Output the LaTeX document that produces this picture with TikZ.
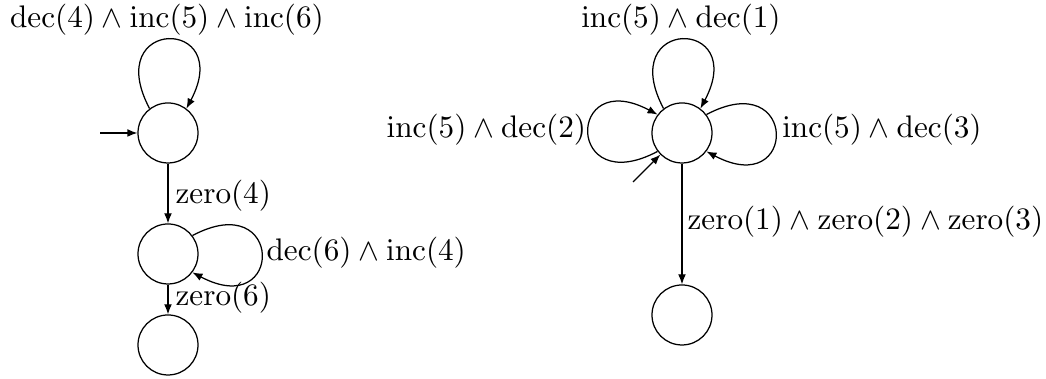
\documentclass[tikz,border=0pt]{standalone}
\usetikzlibrary{arrows.meta}
\begin{document}
\begin{tikzpicture}[x=0.3205pt,y=0.3205pt,
  state/.style={circle,draw,minimum size=19.23pt,inner sep=0pt},
  arr/.style={-{Latex[length=3.2pt,width=2.5pt]}},
  lab/.style={inner sep=0pt}]
\useasboundingbox (0,0) rectangle (1046,379);
% left automaton
\node[state] (s1) at (168,246) {};
\node[state] (s2) at (168,125) {};
\node[state] (s3) at (168,34) {};
\coordinate (i1) at (100,246);
\draw[arr] (i1) -- (s1);
\draw[arr] (s1.127) .. controls +(118:104) and +(62:104) .. (s1.53);
\draw[arr] (s1) -- (s2);
\draw[arr] (s2.37) .. controls +(28:104) and +(-28:104) .. (s2.-37);
\draw[arr] (s2) -- (s3);
\node[lab] (l1) at (167,359.5) {$\mathrm{dec}(4)\wedge\mathrm{inc}(5)\wedge\mathrm{inc}(6)$};
\node[lab,anchor=west] (l2) at (175,183.2) {$\mathrm{zero}(4)$};
\node[lab,anchor=west] (l3) at (266,126.5) {$\mathrm{dec}(6)\wedge\mathrm{inc}(4)$};
\node[lab,anchor=west] (l4) at (175,81.5) {$\mathrm{zero}(6)$};
% right automaton
\node[state] (c) at (682,246) {};
\node[state] (d) at (682,64) {};
\coordinate (i2) at (633,197);
\draw[arr] (i2) -- (c.225);
\draw[arr] (c.127) .. controls +(118:104) and +(62:104) .. (c.53);
\draw[arr] (c.217) .. controls +(208:104) and +(152:104) .. (c.143);
\draw[arr] (c.37) .. controls +(28:104) and +(-28:104) .. (c.-37);
\draw[arr] (c) -- (d);
\node[lab] (r1) at (681,359.5) {$\mathrm{inc}(5)\wedge\mathrm{dec}(1)$};
\node[lab,anchor=east] (r2) at (586.7,249.5) {$\mathrm{inc}(5)\wedge\mathrm{dec}(2)$};
\node[lab,anchor=west] (r3) at (781.7,249.5) {$\mathrm{inc}(5)\wedge\mathrm{dec}(3)$};
\node[lab,anchor=west] (r4) at (687,157.3) {$\mathrm{zero}(1)\wedge\mathrm{zero}(2)\wedge\mathrm{zero}(3)$};
\end{tikzpicture}
\end{document}
